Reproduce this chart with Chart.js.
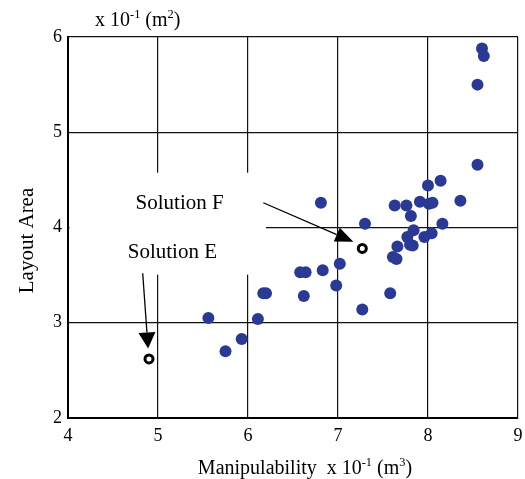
<!DOCTYPE html>
<html>
<head>
<meta charset="utf-8">
<script src="https://cdn.jsdelivr.net/npm/chart.js@4.4.1/dist/chart.umd.min.js"></script>
<style>
  html, body { margin: 0; padding: 0; background: #fff; }
  #wrap { width: 525px; height: 479px; }
</style>
</head>
<body>
<div id="wrap"><canvas id="myChart" width="525" height="479"></canvas></div>
<script>
// design candidates (manipulability x 10^-1 m^3, layout area x 10^-1 m^2)
const candX = [5.56, 5.75, 5.93, 6.11, 6.17, 6.20, 6.58, 6.64, 6.62, 6.83, 6.81, 6.98, 7.02, 7.27, 7.30,
               7.58, 7.61, 7.65, 7.66, 7.80, 7.83, 7.77, 7.84, 7.96, 8.04, 7.81, 7.63, 7.76, 7.91, 8.01,
               8.05, 8.16, 8.00, 8.14, 8.36, 8.55, 8.55, 8.62, 8.60];
const candY = [3.05, 2.70, 2.83, 3.04, 3.31, 3.31, 3.53, 3.53, 3.28, 3.55, 4.26, 3.39, 3.62, 3.14, 4.04,
               3.31, 3.69, 3.67, 3.80, 3.82, 3.81, 3.90, 3.97, 3.90, 3.94, 4.12, 4.23, 4.23, 4.27, 4.25,
               4.26, 4.04, 4.44, 4.49, 4.28, 4.66, 5.50, 5.80, 5.88];

// highlighted solutions
const solutionNames = ['Solution F', 'Solution E'];
const solutionX = [7.27, 4.90];
const solutionY = [3.78, 2.62];

// annotation: label centre, arrow start, arrow tip (data units)
const labelX = [5.24, 5.16];
const labelY = [4.25, 3.74];
const arrowFromX = [6.17, 4.83];
const arrowFromY = [4.26, 3.52];
const arrowToX = [7.17, 4.89];
const arrowToY = [3.85, 2.73];

// white box behind the labels
const boxX = [4.0, 6.20];
const boxY = [3.505, 4.575];

const xTicks = [4, 5, 6, 7, 8, 9];
const yTicks = [2, 3, 4, 5, 6];

const SERIF = "'Liberation Serif', 'Times New Roman', serif";

function drawRich(ctx, parts, x, y, size, align) {
    let total = 0;
    parts.forEach(p => {
        ctx.font = (p.sup ? size * 0.62 : size) + 'px ' + SERIF;
        p.w = ctx.measureText(p.t).width;
        total += p.w;
    });
    let cx = align === 'center' ? x - total / 2 : x;
    ctx.textAlign = 'left';
    ctx.textBaseline = 'alphabetic';
    parts.forEach(p => {
        ctx.font = (p.sup ? size * 0.62 : size) + 'px ' + SERIF;
        ctx.fillText(p.t, cx, p.sup ? y - size * 0.38 : y);
        cx += p.w;
    });
}

function arrow(ctx, x1, y1, x2, y2, len, half) {
    const dx = x2 - x1, dy = y2 - y1;
    const d = Math.sqrt(dx * dx + dy * dy);
    const ux = dx / d, uy = dy / d;
    const bx = x2 - ux * len, by = y2 - uy * len;
    ctx.beginPath();
    ctx.moveTo(x1, y1);
    ctx.lineTo(bx, by);
    ctx.lineWidth = 1.3;
    ctx.strokeStyle = '#000';
    ctx.stroke();
    ctx.beginPath();
    ctx.moveTo(x2, y2);
    ctx.lineTo(bx - uy * half, by + ux * half);
    ctx.lineTo(bx + uy * half, by - ux * half);
    ctx.closePath();
    ctx.fillStyle = '#000';
    ctx.fill();
}

const annotations = {
    id: 'annotations',
    beforeDatasetsDraw(chart) {
        const ctx = chart.ctx;
        const xs = chart.scales.x, ys = chart.scales.y;
        const l = xs.getPixelForValue(boxX[0]) + 1.5;
        const r = xs.getPixelForValue(boxX[1]);
        const t = ys.getPixelForValue(boxY[1]);
        const b = ys.getPixelForValue(boxY[0]);
        ctx.save();
        ctx.fillStyle = '#fff';
        ctx.fillRect(l, t, r - l, b - t);
        ctx.restore();
    },
    afterDatasetsDraw(chart) {
        const ctx = chart.ctx;
        const xs = chart.scales.x, ys = chart.scales.y;
        ctx.save();
        for (let i = 0; i < solutionNames.length; i++) {
            ctx.font = '21px ' + SERIF;
            ctx.fillStyle = '#000';
            ctx.textAlign = 'center';
            ctx.textBaseline = 'middle';
            ctx.fillText(solutionNames[i], xs.getPixelForValue(labelX[i]), ys.getPixelForValue(labelY[i]));
            arrow(ctx,
                xs.getPixelForValue(arrowFromX[i]), ys.getPixelForValue(arrowFromY[i]),
                xs.getPixelForValue(arrowToX[i]), ys.getPixelForValue(arrowToY[i]),
                i === 0 ? 18 : 16, i === 0 ? 7.5 : 8.5);
        }
        ctx.restore();
    },
    afterDraw(chart) {
        const ctx = chart.ctx;
        const area = chart.chartArea;
        ctx.save();
        ctx.fillStyle = '#000';
        // y unit, above the plot
        drawRich(ctx, [{t: 'x 10'}, {t: '-1', sup: true}, {t: ' (m'}, {t: '2', sup: true}, {t: ')'}],
            95, 26, 20, 'left');
        // x title
        drawRich(ctx, [{t: 'Manipulability  x 10'}, {t: '-1', sup: true}, {t: ' (m'}, {t: '3', sup: true}, {t: ')'}],
            (area.left + area.right) / 2 + 12, 474, 20, 'center');
        // y title
        ctx.translate(27, (area.top + area.bottom) / 2 + 13);
        ctx.rotate(-Math.PI / 2);
        ctx.font = '21px ' + SERIF;
        ctx.textAlign = 'center';
        ctx.textBaseline = 'middle';
        ctx.fillText('Layout Area', 0, 0);
        ctx.restore();
    }
};

document.addEventListener('DOMContentLoaded', () => {
    const ctx = document.getElementById('myChart').getContext('2d');
    new Chart(ctx, {
        type: 'scatter',
        data: {
            datasets: [{
                label: 'Candidates',
                data: candX.map((x, i) => ({x: x, y: candY[i]})),
                backgroundColor: '#2b3996',
                borderWidth: 0,
                pointRadius: 6,
                pointHoverRadius: 6
            }, {
                label: 'Solutions',
                data: solutionX.map((x, i) => ({x: x, y: solutionY[i]})),
                backgroundColor: '#fff',
                borderColor: '#000',
                borderWidth: 3,
                pointRadius: 4,
                pointHoverRadius: 4
            }]
        },
        options: {
            responsive: false,
            animation: false,
            events: [],
            layout: { padding: { top: 37, right: 7, left: 0, bottom: 0 } },
            plugins: { legend: { display: false }, tooltip: { enabled: false } },
            scales: {
                x: {
                    type: 'linear',
                    min: 4, max: 9,
                    afterBuildTicks: s => { s.ticks = xTicks.map(v => ({value: v})); },
                    afterFit: s => { s.height = 61; s.paddingLeft = 0; s.paddingRight = 0; },
                    grid: { color: '#111', lineWidth: 1.2, drawTicks: false },
                    border: { color: '#000', width: 2 },
                    ticks: { color: '#000', padding: 7, font: { family: SERIF, size: 18 } }
                },
                y: {
                    type: 'linear',
                    min: 2, max: 6,
                    afterBuildTicks: s => { s.ticks = yTicks.map(v => ({value: v})); },
                    afterFit: s => { s.width = 68; s.paddingTop = 0; s.paddingBottom = 0; },
                    grid: { color: '#111', lineWidth: 1.2, drawTicks: false },
                    border: { color: '#000', width: 2 },
                    ticks: { color: '#000', padding: 6, font: { family: SERIF, size: 18 } }
                }
            }
        },
        plugins: [annotations]
    });
});
</script>
</body>
</html>
